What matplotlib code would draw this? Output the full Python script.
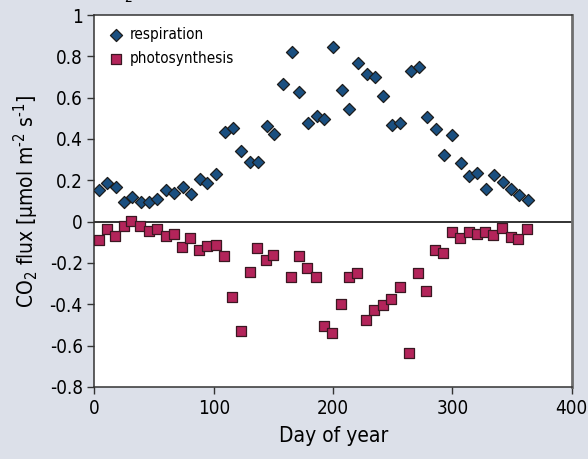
import matplotlib
matplotlib.use("Agg")
import matplotlib.pyplot as plt

# Respiration (diamonds), day of year and flux
resp_day = [4, 10.7, 18, 25, 31.4, 38.7, 46, 52.6, 60, 67, 74, 81, 88.4, 94.6,
            101.8, 109.4, 115.8, 123, 130.3, 137, 144.3, 150.6, 157.7, 165.3,
            171.7, 179, 186.3, 192.6, 200, 207.5, 213.6, 221, 228, 234.9, 242,
            249.3, 256, 265, 271.8, 279, 286.3, 293, 300, 307.4, 313.6, 320.9,
            328.2, 334.9, 342.2, 349.4, 356.1, 363.4]
resp_flux = [0.153, 0.186, 0.169, 0.094, 0.118, 0.094, 0.094, 0.108, 0.153,
             0.14, 0.166, 0.134, 0.208, 0.186, 0.232, 0.432, 0.453, 0.34,
             0.287, 0.29, 0.463, 0.426, 0.665, 0.821, 0.627, 0.476, 0.511,
             0.498, 0.847, 0.639, 0.544, 0.768, 0.713, 0.699, 0.608, 0.469,
             0.479, 0.729, 0.748, 0.505, 0.45, 0.321, 0.419, 0.285, 0.219,
             0.234, 0.158, 0.226, 0.194, 0.16, 0.129, 0.103]

# Photosynthesis (squares)
phot_day = [3.8, 10.2, 17.4, 24.8, 30.8, 38.4, 45.4, 52.1, 59.7, 66.9, 73.1,
            80.3, 87.6, 94.3, 101.6, 108.8, 115.5, 122.8, 130.1, 136.5, 144,
            149.9, 164.7, 171.2, 178.4, 185.7, 192.1, 199.3, 206.9, 213.3,
            220.3, 227.8, 234.3, 241.6, 248.8, 256.3, 263.8, 271.2, 278.2,
            285.7, 292.4, 299.7, 306.6, 313.6, 320.6, 327.6, 334.3, 341.6,
            348.9, 355.3, 362.8]
phot_flux = [-0.089, -0.037, -0.069, -0.021, 0.003, -0.021, -0.045, -0.037,
             -0.069, -0.061, -0.124, -0.08, -0.137, -0.118, -0.111, -0.166,
             -0.366, -0.53, -0.245, -0.129, -0.185, -0.16, -0.269, -0.166,
             -0.225, -0.269, -0.506, -0.537, -0.398, -0.269, -0.25, -0.476,
             -0.427, -0.405, -0.374, -0.318, -0.634, -0.25, -0.335, -0.135,
             -0.153, -0.05, -0.08, -0.05, -0.061, -0.051, -0.063, -0.032,
             -0.074, -0.082, -0.037]

ytick_vals = [-0.8, -0.6, -0.4, -0.2, 0, 0.2, 0.4, 0.6, 0.8, 1.0]
ytick_labels = ["-0.8", "-0.6", "-0.4", "-0.2", "0", "0.2", "0.4", "0.6", "0.8", "1"]
xtick_vals = [0, 100, 200, 300, 400]

BG = "#dce0e9"

plt.rcParams["font.family"] = "DejaVu Sans"
plt.rcParams["font.stretch"] = "condensed"
plt.rcParams["mathtext.fontset"] = "custom"
plt.rcParams["mathtext.rm"] = "DejaVu Sans:stretch=condensed"
plt.rcParams["mathtext.default"] = "rm"

fig = plt.figure(figsize=(5.88, 4.59), dpi=100, facecolor=BG)
ax = fig.add_axes([0.1607, 0.157, 0.8117, 0.8103])
ax.set_facecolor("white")

ax.axhline(0, color="#222222", lw=1.3, zorder=1)

ax.scatter(resp_day, resp_flux, marker="D", s=38, facecolor="#1a4f80",
           edgecolor="#1c1c1c", linewidth=0.9, zorder=3, label="respiration")
ax.scatter(phot_day, phot_flux, marker="s", s=46, facecolor="#b3245a",
           edgecolor="#3a1822", linewidth=0.9, zorder=3, label="photosynthesis")

ax.set_xlim(0, 400)
ax.set_ylim(-0.8, 1.0)
ax.set_xticks(xtick_vals)
ax.set_yticks(ytick_vals)
ax.set_yticklabels(ytick_labels)
ax.tick_params(direction="out", length=5, width=1, colors="#333333",
               labelsize=13.5, labelcolor="black")

for side in ["left", "bottom", "top"]:
    ax.spines[side].set_color("#333333")
    ax.spines[side].set_linewidth(1.1)
ax.spines["right"].set_color("#6e6e6e")
ax.spines["right"].set_linewidth(2)

ax.set_xlabel("Day of year", fontsize=15, labelpad=6)
ax.set_ylabel("CO$_2$ flux [µmol m$^{\\text{-2}}$ s$^{\\text{-1}}$]", fontsize=15, labelpad=6)

ax.legend(loc="upper left", frameon=False, fontsize=11, handletextpad=0.3,
          borderaxespad=0.4, labelspacing=0.55, handlelength=1.2)

# cut-off title at the top edge (only the subscript shows, as in the original)
fig.text(0.225, 1.0, "CO$_2$", ha="right", va="baseline", fontsize=14)

fig.savefig("out.png", dpi=100, facecolor=BG)
